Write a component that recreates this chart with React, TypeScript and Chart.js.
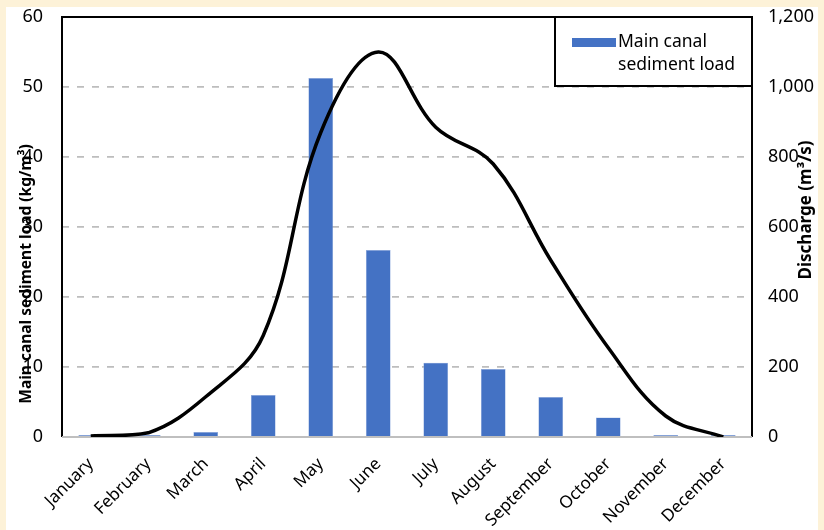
import React, { useEffect, useRef } from "react";
import { Chart, registerables } from "chart.js";

Chart.register(...registerables);

const months = [
  "January", "February", "March", "April", "May", "June",
  "July", "August", "September", "October", "November", "December",
];
const sedimentLoad = [0.3, 0.3, 0.7, 6.0, 51.3, 26.7, 10.6, 9.7, 5.7, 2.8, 0.3, 0.3];
const discharge = [3, 12, 115, 290, 870, 1100, 885, 780, 505, 255, 60, 0];
const leftAxis = { min: 0, max: 60, step: 10 };
const rightAxis = { min: 0, max: 1200, step: 200 };
const leftTitle = "Main canal sediment load (kg/m³)";
const rightTitle = "Discharge (m³/s)";
const barLabel = "Main canal sediment load";
const lineLabel = "Discharge";

const FONT = "'Noto Sans', 'DejaVu Sans', sans-serif";

const framePlugin = {
  id: "frame",
  beforeDatasetsDraw(chart: any) {
    const { ctx, chartArea: a } = chart;
    ctx.save();
    ctx.strokeStyle = "#000";
    ctx.lineWidth = 2;
    ctx.beginPath();
    ctx.moveTo(a.left, a.bottom);
    ctx.lineTo(a.left, a.top);
    ctx.lineTo(a.right, a.top);
    ctx.lineTo(a.right, a.bottom);
    ctx.stroke();
    ctx.strokeStyle = "#BFBFBF";
    ctx.lineWidth = 2;
    ctx.beginPath();
    ctx.moveTo(a.left, a.bottom);
    ctx.lineTo(a.right, a.bottom);
    ctx.stroke();
    ctx.restore();
  },
  afterDraw(chart: any) {
    const { ctx, chartArea: a } = chart;
    ctx.save();
    ctx.fillStyle = "#000";
    ctx.textAlign = "center";
    ctx.textBaseline = "middle";
    ctx.save();
    ctx.font = `bold 15.5px ${FONT}`;
    ctx.translate(27, 274);
    ctx.rotate(-Math.PI / 2);
    ctx.fillText(leftTitle, 0, 0);
    ctx.restore();
    ctx.save();
    ctx.font = `bold 17px ${FONT}`;
    ctx.translate(806, 210);
    ctx.rotate(-Math.PI / 2);
    ctx.fillText(rightTitle, 0, 0);
    ctx.restore();

    // legend (bar series only)
    const ds = chart.data.datasets.find((d: any) => d.type === "bar");
    const lx = 555, ly = a.top, lw = a.right - 555, lh = 69;
    ctx.fillStyle = "#fff";
    ctx.fillRect(lx, ly, lw, lh);
    ctx.strokeStyle = "#000";
    ctx.lineWidth = 2;
    ctx.strokeRect(lx, ly, lw, lh);
    ctx.fillStyle = ds.backgroundColor;
    ctx.fillRect(572, ly + 21, 44, 9);
    ctx.fillStyle = "#000";
    ctx.font = `17.5px ${FONT}`;
    ctx.textAlign = "left";
    ctx.textBaseline = "middle";
    const words = ds.label.split(" ");
    ctx.fillText(words.slice(0, 2).join(" "), 618, ly + 25);
    ctx.fillText(words.slice(2).join(" "), 618, ly + 48);
    ctx.restore();
  },
};

function fitY(width: number) {
  return (scale: any) => {
    scale.width = width;
    scale.paddingTop = 0;
    scale.paddingBottom = 0;
  };
}

export default function App() {
  const ref = useRef<HTMLCanvasElement>(null);
  useEffect(() => {
    if (!ref.current) return;
    const chart = new Chart(ref.current, {
      type: "bar",
      data: {
        labels: months,
        datasets: [
          {
            type: "line",
            label: lineLabel,
            data: discharge,
            yAxisID: "y1",
            borderColor: "#000",
            borderWidth: 3.5,
            pointRadius: 0,
            tension: 0.38,
            fill: false,
            order: 1,
          } as any,
          {
            type: "bar",
            label: barLabel,
            data: sedimentLoad,
            yAxisID: "y",
            backgroundColor: "#4472C4",
            borderColor: "#8FAADC",
            borderWidth: 0.5,
            barPercentage: 0.43,
            categoryPercentage: 1,
            order: 2,
          },
        ],
      },
      plugins: [framePlugin],
      options: {
        responsive: false,
        animation: false,
        layout: { padding: { top: 17, left: 0, right: 0, bottom: 0 } },
        plugins: { legend: { display: false }, tooltip: { enabled: false } },
        scales: {
          x: {
            grid: { display: false },
            border: { display: false },
            ticks: {
              color: "#000",
              font: { family: FONT, size: 17 },
              minRotation: 45,
              maxRotation: 45,
              padding: 9,
            },
            afterFit(scale: any) {
              scale.height = 93;
              scale.paddingLeft = 0;
              scale.paddingRight = 0;
            },
          },
          y: {
            position: "left",
            min: leftAxis.min,
            max: leftAxis.max,
            border: { display: false, dash: [7, 8] },
            grid: {
              drawTicks: false,
              lineWidth: 1.8,
              color: (c: any) =>
                c.tick && (c.tick.value === leftAxis.min || c.tick.value === leftAxis.max)
                  ? "rgba(0,0,0,0)"
                  : "#BDBDBD",
            },
            ticks: {
              stepSize: leftAxis.step,
              color: "#000",
              font: { family: FONT, size: 18 },
              padding: 19,
            },
            afterFit: fitY(62),
          },
          y1: {
            position: "right",
            min: rightAxis.min,
            max: rightAxis.max,
            border: { display: false },
            grid: { display: false, drawTicks: false },
            ticks: {
              stepSize: rightAxis.step,
              color: "#000",
              font: { family: FONT, size: 18 },
              padding: 16,
            },
            afterFit: fitY(72),
          },
        },
      },
    });
    return () => chart.destroy();
  }, []);

  return (
    <div style={{ position: "fixed", left: 0, top: 0, width: 824, height: 530, background: "#FDF2D8" }}>
      <div style={{ position: "absolute", left: 6, top: 7, width: 812, height: 523, background: "#fff" }} />
      <canvas ref={ref} width={824} height={530} style={{ position: "absolute", left: 0, top: 0, width: 824, height: 530 }} />
    </div>
  );
}
